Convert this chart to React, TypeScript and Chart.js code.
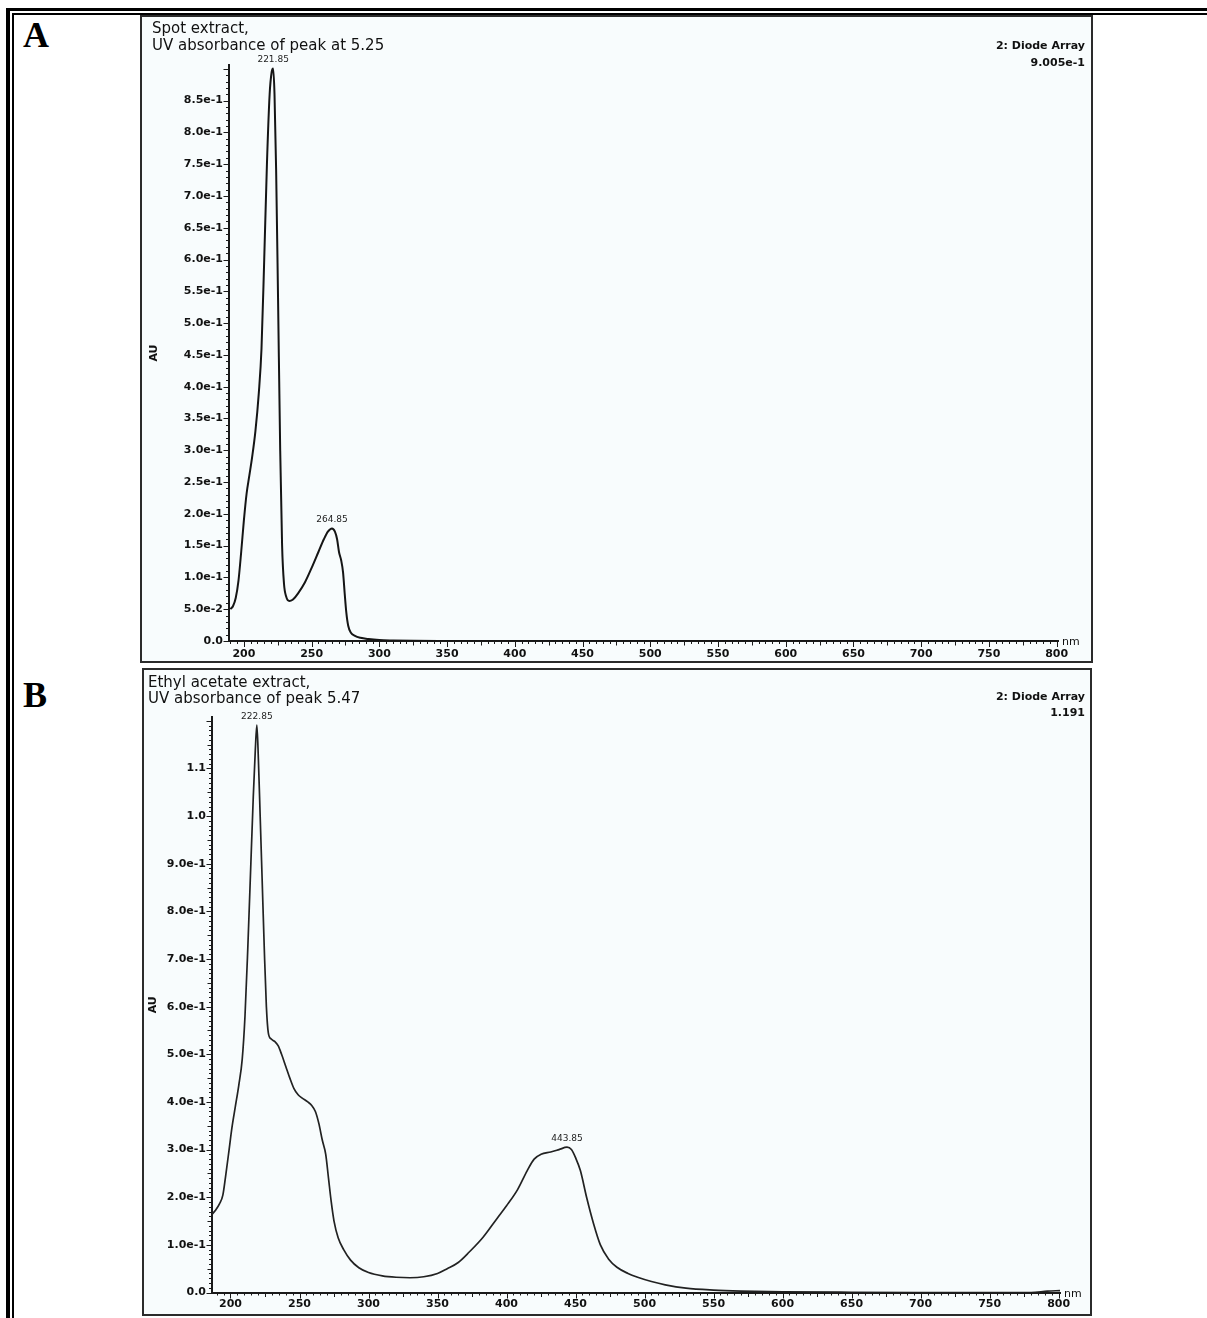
import React, { useEffect, useRef } from 'react';
import { Chart, registerables } from 'chart.js';

Chart.register(...registerables);

// ---------- Panel A: Spot extract ----------
const wavelengthA = [190, 192, 194, 196, 198, 200, 202, 204, 206, 208.5, 211, 213, 215, 217, 219, 220.5, 221.6, 222.6, 223.8, 225.2, 226.8, 228.2, 229.6, 231.2, 233.5, 236, 240, 245, 250, 255, 259, 262, 265, 267.2, 268.8, 270.2, 271.8, 273.2, 274.4, 275.6, 277, 279, 282, 286, 292, 300, 310, 325, 350, 800];
const absorbanceA = [0.05, 0.055, 0.068, 0.095, 0.14, 0.19, 0.232, 0.26, 0.288, 0.33, 0.39, 0.46, 0.6, 0.75, 0.86, 0.895, 0.9005, 0.86, 0.74, 0.54, 0.3, 0.15, 0.09, 0.07, 0.063, 0.065, 0.075, 0.092, 0.115, 0.14, 0.16, 0.172, 0.177, 0.172, 0.16, 0.14, 0.127, 0.108, 0.075, 0.045, 0.024, 0.013, 0.008, 0.005, 0.003, 0.0015, 0.0008, 0.0002, 0, 0];
const yTicksA = [0, 0.05, 0.1, 0.15, 0.2, 0.25, 0.3, 0.35, 0.4, 0.45, 0.5, 0.55, 0.6, 0.65, 0.7, 0.75, 0.8, 0.85];
const peakNmA = [221.85, 264.85];
const peakTextA = ['221.85', '264.85'];

// ---------- Panel B: Ethyl acetate extract ----------
const wavelengthB = [186.6, 189, 192, 194.5, 196.5, 199, 201, 203.5, 206, 208.5, 210.5, 212.5, 214.5, 216.5, 218, 219.1, 220.2, 221.5, 223, 224.5, 226, 227.4, 229.5, 232, 234.5, 237, 240, 243, 246, 249, 252, 256, 259, 261.5, 264, 266.5, 269, 271, 273, 275, 278, 282, 287, 293, 300, 310, 320, 330, 340, 350, 357, 365, 373, 383, 393, 400, 408, 415, 420, 425, 432, 438, 443.85, 447, 450, 453.5, 458, 463, 468, 474, 480, 488, 495, 505, 515, 530, 550, 570, 600, 650, 700, 780, 792, 801];
const absorbanceB = [0.164, 0.172, 0.186, 0.205, 0.245, 0.3, 0.345, 0.39, 0.435, 0.49, 0.58, 0.72, 0.88, 1.04, 1.14, 1.191, 1.12, 1.0, 0.86, 0.72, 0.6, 0.545, 0.532, 0.527, 0.518, 0.5, 0.475, 0.45, 0.428, 0.415, 0.408, 0.4, 0.392, 0.38, 0.355, 0.32, 0.29, 0.24, 0.19, 0.15, 0.115, 0.09, 0.068, 0.052, 0.042, 0.035, 0.032, 0.031, 0.033, 0.04, 0.05, 0.063, 0.085, 0.116, 0.155, 0.182, 0.216, 0.256, 0.28, 0.29, 0.295, 0.3, 0.305, 0.3, 0.283, 0.256, 0.2, 0.145, 0.1, 0.07, 0.053, 0.04, 0.032, 0.023, 0.016, 0.009, 0.005, 0.003, 0.0015, 0.0005, 0, 0, 0.003, 0.004];
const yTicksB = [0, 0.1, 0.2, 0.3, 0.4, 0.5, 0.6, 0.7, 0.8, 0.9, 1.0, 1.1];
const peakNmB = [222.85, 443.85];
const peakTextB = ['222.85', '443.85'];

// ---------- shared x ticks ----------
const xTicks = [200, 250, 300, 350, 400, 450, 500, 550, 600, 650, 700, 750, 800];

const FONT = '"DejaVu Sans", "Liberation Sans", sans-serif';

function fmtAU(v: number): string {
  if (Math.abs(v) < 1e-9) return '0.0';
  if (v >= 0.995) return v.toFixed(1);
  return v.toExponential(1);
}

interface PanelCfg {
  xs: number[];
  ys: number[];
  yTicks: number[];
  peakNm: number[];
  peakText: string[];
  xMin: number;
  xMax: number;
  yMax: number;
  yMajorEvery: number; // in units of 0.01
  yMidEvery: number;
  cx: number; cy: number; cw: number; ch: number;
  yAxisWidth: number;
  padTop: number;
  padRight: number;
  xAxisHeight: number;
  xLabelPad: number;
  lineWidth: number;
  lineColor: string;
  auX: number;
}

function makeDecor(cfg: PanelCfg) {
  return {
    id: 'decor',
    afterDraw(chart: any) {
      const { ctx, chartArea } = chart;
      const xs = chart.scales.x;
      const ys = chart.scales.y;
      ctx.save();
      ctx.strokeStyle = '#1a1a1a';
      ctx.lineWidth = 1;
      ctx.beginPath();
      const first = Math.ceil(xs.min / 5) * 5;
      for (let v = first; v <= xs.max + 1e-6; v += 5) {
        const px = Math.round(xs.getPixelForValue(v)) + 0.5;
        const len = v % 50 === 0 ? 6 : v % 25 === 0 ? 4.5 : 3;
        ctx.moveTo(px, chartArea.bottom);
        ctx.lineTo(px, chartArea.bottom + len);
      }
      const n = Math.floor(ys.max / 0.01 + 1e-6);
      for (let i = 0; i <= n; i++) {
        const py = Math.round(ys.getPixelForValue(i * 0.01)) + 0.5;
        const major = i % cfg.yMajorEvery === 0;
        const mid = cfg.yMidEvery > 0 && i % cfg.yMidEvery === 0;
        const len = major ? 5.5 : mid ? 4.5 : 3;
        ctx.moveTo(chartArea.left, py);
        ctx.lineTo(chartArea.left - len, py);
      }
      ctx.stroke();

      // peak labels
      ctx.fillStyle = '#222';
      ctx.font = '9px ' + FONT;
      ctx.textAlign = 'center';
      ctx.textBaseline = 'bottom';
      cfg.peakNm.forEach((nm, k) => {
        let best = -1;
        for (let i = 0; i < cfg.xs.length; i++) {
          if (Math.abs(cfg.xs[i] - nm) <= 6 && (best < 0 || cfg.ys[i] > cfg.ys[best])) best = i;
        }
        if (best < 0) return;
        const px = xs.getPixelForValue(cfg.xs[best]);
        const py = ys.getPixelForValue(cfg.ys[best]);
        ctx.fillText(cfg.peakText[k], px, py - 4);
      });

      // unit label
      ctx.fillStyle = '#111';
      ctx.font = '11px ' + FONT;
      ctx.textAlign = 'left';
      ctx.textBaseline = 'alphabetic';
      ctx.fillText('nm', chartArea.right + 4, chartArea.bottom + 4);

      // AU
      ctx.translate(cfg.auX, (chartArea.top + chartArea.bottom) / 2);
      ctx.rotate(-Math.PI / 2);
      ctx.textAlign = 'center';
      ctx.textBaseline = 'middle';
      ctx.font = 'bold 11px ' + FONT;
      ctx.fillText('AU', 0, 0);
      ctx.restore();
    },
  };
}

function SpectrumChart({ cfg }: { cfg: PanelCfg }) {
  const ref = useRef<HTMLCanvasElement | null>(null);
  useEffect(() => {
    const canvas = ref.current;
    if (!canvas) return;
    const chart = new Chart(canvas, {
      type: 'line',
      data: {
        datasets: [
          {
            data: cfg.xs.map((x, i) => ({ x, y: cfg.ys[i] })),
            borderColor: cfg.lineColor,
            borderWidth: cfg.lineWidth,
            pointRadius: 0,
            fill: false,
            cubicInterpolationMode: 'monotone',
          } as any,
        ],
      },
      options: {
        responsive: false,
        animation: false,
        devicePixelRatio: 1,
        layout: { padding: { top: cfg.padTop, right: cfg.padRight, left: 0, bottom: 0 } },
        plugins: { legend: { display: false }, tooltip: { enabled: false } },
        scales: {
          x: {
            type: 'linear',
            min: cfg.xMin,
            max: cfg.xMax,
            afterBuildTicks: (s: any) => {
              s.ticks = xTicks.map((v) => ({ value: v }));
            },
            afterFit: (s: any) => {
              s.height = cfg.xAxisHeight;
            },
            grid: { display: false, drawTicks: false },
            border: { display: true, color: '#1a1a1a', width: 2 },
            ticks: {
              autoSkip: false,
              maxRotation: 0,
              padding: cfg.xLabelPad,
              color: '#111',
              font: { family: FONT, size: 11, weight: 'bold' },
              callback: (v: any) => String(v),
            },
          },
          y: {
            type: 'linear',
            min: 0,
            max: cfg.yMax,
            afterBuildTicks: (s: any) => {
              s.ticks = cfg.yTicks.map((v) => ({ value: v }));
            },
            afterFit: (s: any) => {
              s.width = cfg.yAxisWidth;
            },
            grid: { display: false, drawTicks: false },
            border: { display: true, color: '#1a1a1a', width: 2 },
            ticks: {
              autoSkip: false,
              padding: 6,
              color: '#111',
              font: { family: FONT, size: 11, weight: 'bold' },
              callback: (v: any) => fmtAU(Number(v)),
            },
          },
        },
      },
      plugins: [makeDecor(cfg)],
    });
    return () => chart.destroy();
  }, [cfg]);
  return (
    <canvas
      ref={ref}
      width={cfg.cw}
      height={cfg.ch}
      style={{ position: 'absolute', left: cfg.cx, top: cfg.cy, width: cfg.cw, height: cfg.ch }}
    />
  );
}

const panelA: PanelCfg = {
  xs: wavelengthA, ys: absorbanceA, yTicks: yTicksA, peakNm: peakNmA, peakText: peakTextA,
  xMin: 189, xMax: 801, yMax: 0.906, yMajorEvery: 5, yMidEvery: 0,
  cx: 142, cy: 17, cw: 949, ch: 644,
  yAxisWidth: 87, padTop: 48, padRight: 33, xAxisHeight: 20, xLabelPad: 7,
  lineWidth: 2, lineColor: '#151515', auX: 12,
};

const panelB: PanelCfg = {
  xs: wavelengthB, ys: absorbanceB, yTicks: yTicksB, peakNm: peakNmB, peakText: peakTextB,
  xMin: 186.6, xMax: 801, yMax: 1.208, yMajorEvery: 10, yMidEvery: 5,
  cx: 144, cy: 670, cw: 946, ch: 644,
  yAxisWidth: 68, padTop: 47, padRight: 30, xAxisHeight: 21.5, xLabelPad: 5,
  lineWidth: 1.7, lineColor: '#222', auX: 9,
};

const abs = (s: React.CSSProperties): React.CSSProperties => ({ position: 'absolute', ...s });

export default function App() {
  const titleStyle: React.CSSProperties = { fontFamily: FONT, fontSize: 15, color: '#111', whiteSpace: 'pre' };
  const infoStyle: React.CSSProperties = { fontFamily: FONT, fontSize: 11, fontWeight: 'bold', color: '#111', textAlign: 'right', whiteSpace: 'pre' };
  const letterStyle: React.CSSProperties = { fontFamily: '"Liberation Serif", "Times New Roman", serif', fontWeight: 'bold', fontSize: 36, lineHeight: '36px', color: '#000' };
  return (
    <div style={abs({ left: 0, top: 0, width: 1207, height: 1318, overflow: 'hidden', background: '#fff' })}>
      {/* outer double border */}
      <div style={abs({ left: 6, top: 8, width: 1201, height: 3, background: '#000' })} />
      <div style={abs({ left: 6, top: 8, width: 4, height: 1310, background: '#000' })} />
      <div style={abs({ left: 12, top: 13, width: 1195, height: 2, background: '#000' })} />
      <div style={abs({ left: 12, top: 13, width: 2, height: 1305, background: '#000' })} />

      <div style={abs({ left: 23, top: 17, ...letterStyle })}>A</div>
      <div style={abs({ left: 23, top: 677, ...letterStyle })}>B</div>

      {/* panel A */}
      <div style={abs({ left: 140, top: 15, width: 949, height: 644, border: '2px solid #2b2b2b', background: '#f8fcfd' })} />
      <SpectrumChart cfg={panelA} />
      <div style={abs({ left: 152, top: 20, lineHeight: '17px', ...titleStyle })}>
        {'Spot extract,\nUV absorbance of peak at 5.25'}
      </div>
      <div style={abs({ left: 885, top: 37, width: 200, lineHeight: '17px', ...infoStyle })}>
        {'2: Diode Array\n9.005e-1'}
      </div>

      {/* panel B */}
      <div style={abs({ left: 142, top: 668, width: 946, height: 644, border: '2px solid #2b2b2b', background: '#f8fcfd' })} />
      <SpectrumChart cfg={panelB} />
      <div style={abs({ left: 148, top: 674, lineHeight: '16px', ...titleStyle })}>
        {'Ethyl acetate extract,\nUV absorbance of peak 5.47'}
      </div>
      <div style={abs({ left: 885, top: 689, width: 200, lineHeight: '16px', ...infoStyle })}>
        {'2: Diode Array\n1.191'}
      </div>
    </div>
  );
}
